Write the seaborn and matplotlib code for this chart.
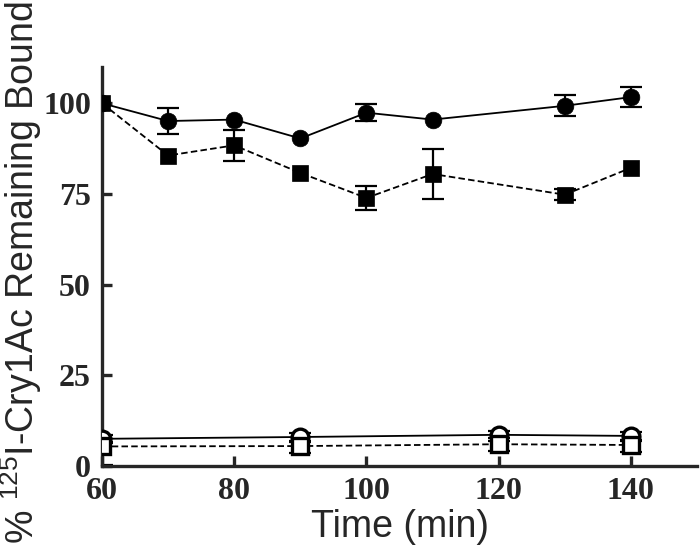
import matplotlib
matplotlib.use('Agg')
import matplotlib.pyplot as plt
import seaborn as sns
import pandas as pd

# filled symbols
time_full = [60, 70, 80, 90, 100, 110, 130, 140]
circle_full = [100, 95.1, 95.5, 90.3, 97.4, 95.5, 99.3, 101.7]
circle_full_err = [0, 3.7, 0, 0, 2.4, 0, 2.85, 2.85]
square_full = [100, 85.6, 88.4, 80.8, 73.9, 80.5, 74.8, 82.2]
square_full_err = [0, 0, 4.2, 0, 3.4, 6.9, 1.5, 0]

# open symbols
time_open = [60, 90, 120, 140]
circle_open = [7.5, 8.0, 8.6, 8.3]
circle_open_err = [1.0, 1.0, 1.0, 1.0]
square_open = [5.4, 5.5, 6.0, 5.8]
square_open_err = [5.0, 1.8, 1.8, 1.8]

sns.set_style('ticks')
plt.rcParams['font.family'] = ['Liberation Serif', 'DejaVu Serif']
plt.rcParams['mathtext.fontset'] = 'custom'
plt.rcParams['mathtext.rm'] = 'Liberation Sans'

fig = plt.figure(figsize=(7, 5.5), dpi=100)
ax = fig.add_axes([0.1457, 0.1527, 0.85, 0.7255])

dash = (3.6, 1.8)
series = [
    (time_full, circle_full, circle_full_err, 'o', 'black', '-'),
    (time_full, square_full, square_full_err, 's', 'black', '--'),
    (time_open, circle_open, circle_open_err, 'o', 'white', '-'),
    (time_open, square_open, square_open_err, 's', 'white', '--'),
]
for t, v, e, mk, fc, ls in series:
    df = pd.DataFrame({'t': t, 'v': v, 'e': e})
    d = df[df['e'] > 0]
    # open points: only the lower half of the bar shows below the marker
    up = d['e'].clip(upper=1.0) if fc == 'white' else d['e']
    ax.errorbar(d['t'], d['v'], yerr=[d['e'], up], fmt='none', ecolor='black',
                elinewidth=1.6, capsize=8, capthick=1.6, zorder=2)
    kw = dict(dashes=dash) if ls == '--' else {}
    sns.lineplot(data=df, x='t', y='v', ax=ax, color='black', linewidth=1.3,
                 marker=mk, markersize=12, markerfacecolor=fc,
                 markeredgecolor='black', markeredgewidth=2.4 if fc == 'white' else 0.5,
                 zorder=3, **kw)

ax.set_xlim(60, 150)
ax.set_ylim(0, 110)
ax.set_xticks([60, 80, 100, 120, 140])
ax.set_yticks([0, 25, 50, 75, 100])
sns.despine(ax=ax)
for s in ['left', 'bottom']:
    ax.spines[s].set_linewidth(2.4)
ax.tick_params(direction='in', length=7, width=2.4, labelsize=23, pad=8)
for lab in ax.get_xticklabels() + ax.get_yticklabels():
    lab.set_fontweight('bold')
ax.set_xlabel('')
ax.set_ylabel('')

fig.text(0.5714, 0.042, 'Time (min)', ha='center', va='center',
         fontsize=27, family=['Liberation Sans', 'DejaVu Sans'])
# long label runs past the top edge, as in the original figure
fig.text(0.03, 0.01, r'% $^{125}$I-Cry1Ac Remaining Bound', rotation=90,
         ha='center', va='bottom', fontsize=27, family=['Liberation Sans', 'DejaVu Sans'])

fig.savefig('out.png', dpi=100)
